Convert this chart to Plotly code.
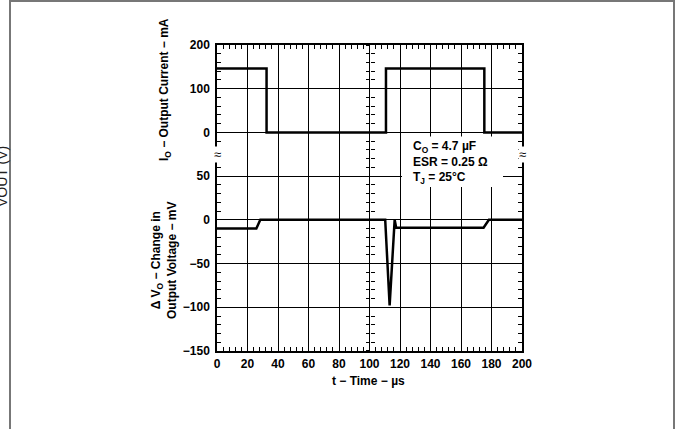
import plotly.graph_objects as go

# ---- data ----
t_current = [0, 32.5, 32.5, 110.8, 110.8, 175.3, 175.3, 200]
i_out_mA = [146, 146, 0, 0, 146, 146, 0, 0]

t_voltage = [0, 25.8, 28.4, 110.3, 113.2, 116.5, 117.5, 174.8, 178.3, 200]
dv_out_mV = [-10, -10, 0, 0, -98, 0, -9, -9, 0, 0]

x_ticks = [0, 20, 40, 60, 80, 100, 120, 140, 160, 180, 200]
i_ticks = [0, 100, 200]
v_ticks = [-150, -100, -50, 0, 50]

# ---- geometry helpers (pixel -> paper) ----
W, H = 679, 429
L, R, T, B = 217, 522, 45, 351
def xp(px):
    return (px - L) / (R - L)
def yp(py):
    return (B - py) / (B - T)

split = 4.5 / 7.0
FONT = "Liberation Sans, Arial, Helvetica, sans-serif"
tickfont = dict(family=FONT, size=12, color="black", weight="bold")

fig = go.Figure()
fig.add_trace(go.Scatter(x=t_current, y=i_out_mA, mode="lines",
                         line=dict(color="black", width=2.5), xaxis="x", yaxis="y",
                         showlegend=False, hoverinfo="skip"))
fig.add_trace(go.Scatter(x=t_voltage, y=dv_out_mV, mode="lines",
                         line=dict(color="black", width=2.5), xaxis="x2", yaxis="y2",
                         showlegend=False, hoverinfo="skip"))
# invisible traces so the centre tick axes are drawn
for ya, xa, xs, ys in [("y3", "x", t_current, i_out_mA), ("y4", "x", t_current, i_out_mA),
                       ("y5", "x2", t_voltage, dv_out_mV), ("y6", "x2", t_voltage, dv_out_mV)]:
    fig.add_trace(go.Scatter(x=xs, y=ys, mode="lines", line=dict(width=0, color="rgba(0,0,0,0)"),
                             xaxis=xa, yaxis=ya, showlegend=False, hoverinfo="skip"))

common_x = dict(range=[0, 200], tickvals=x_ticks, showgrid=True, gridcolor="black", gridwidth=1,
                zeroline=False, showline=True, linecolor="black", linewidth=1.5,
                ticks="inside", ticklen=4, tickcolor="black",
                minor=dict(ticks="inside", ticklen=4, dtick=4, tick0=0, tickcolor="black", showgrid=False))

fig.update_layout(
    width=W, height=H, margin=dict(l=L, r=W - R, t=T, b=H - B),
    paper_bgcolor="white", plot_bgcolor="white",
    xaxis=dict(common_x, anchor="y", side="top", showticklabels=False, mirror=False),
    xaxis2=dict(common_x, anchor="y2", side="bottom", showticklabels=True, mirror=False,
                tickfont=tickfont, ticklabelstandoff=1),
    yaxis=dict(domain=[split, 1], anchor="x", range=[-50, 200], tickvals=i_ticks,
               showgrid=True, gridcolor="black", gridwidth=1, zeroline=False,
               showline=True, linecolor="black", linewidth=1.5, mirror="ticks",
               ticks="inside", ticklen=4, tickcolor="black", tickfont=tickfont,
               ticklabelstandoff=3,
               minor=dict(ticks="inside", ticklen=4, dtick=20, tick0=0, tickcolor="black", showgrid=False)),
    yaxis2=dict(domain=[0, split], anchor="x2", range=[-150, 75], tickvals=v_ticks,
                showgrid=True, gridcolor="black", gridwidth=1, zeroline=False,
                showline=True, linecolor="black", linewidth=1.5, mirror="ticks",
                ticks="inside", ticklen=4, tickcolor="black", tickfont=tickfont,
                ticklabelstandoff=3,
                minor=dict(ticks="inside", ticklen=4, dtick=10, tick0=0, tickcolor="black", showgrid=False)),
)

def centre_axis(over, rng, dt, direction):
    return dict(overlaying=over, anchor="free", position=0.5, side="left", range=rng,
                showgrid=False, zeroline=False, showline=False, showticklabels=False,
                ticks=direction, ticklen=4, tickcolor="black", tickvals=[],
                minor=dict(ticks=direction, ticklen=4, dtick=dt, tick0=0, tickcolor="black", showgrid=False))

fig.update_layout(
    yaxis3=centre_axis("y", [-50, 200], 20, "outside"),
    yaxis4=centre_axis("y", [-50, 200], 20, "inside"),
    yaxis5=centre_axis("y2", [-150, 75], 10, "outside"),
    yaxis6=centre_axis("y2", [-150, 75], 10, "inside"),
)

# white box behind the condition text (covers grid lines only)
fig.add_shape(type="rect", xref="paper", yref="paper", x0=xp(402), x1=xp(503), y0=yp(187), y1=yp(136.5),
              fillcolor="white", line=dict(width=0), layer="above")

# outer page border
for x0, x1, y0, y1 in [(10, 10, 0, 429), (674, 674, 0, 429), (10, 674, 1, 1)]:
    fig.add_shape(type="line", xref="paper", yref="paper", x0=xp(x0), x1=xp(x1), y0=yp(y0), y1=yp(y1),
                  line=dict(color="#777777", width=2))

bold = dict(family=FONT, size=12, color="black", weight="bold")
fig.add_annotation(xref="paper", yref="paper", x=xp(411), y=yp(137), xanchor="left", yanchor="top",
                   align="left", showarrow=False, font=bold,
                   text="C<sub>O</sub> = 4.7 µF<br>ESR = 0.25 Ω<br>T<sub>J</sub> = 25°C")
fig.add_annotation(xref="paper", yref="paper", x=xp(368), y=yp(381), xanchor="center", yanchor="middle",
                   showarrow=False, font=bold, text="t − Time − µs")
fig.add_annotation(xref="paper", yref="paper", x=xp(165), y=yp(90), xanchor="center", yanchor="middle",
                   showarrow=False, font=bold,
                   textangle=-90, text="I<sub>O</sub> − Output Current − mA")
fig.add_annotation(xref="paper", yref="paper", x=xp(164), y=yp(261), xanchor="center", yanchor="middle",
                   showarrow=False, font=bold,
                   textangle=-90, text="Δ V<sub>O</sub> − Change in<br>Output Voltage − mV")
fig.add_annotation(xref="paper", yref="paper", x=xp(2), y=yp(177), xanchor="center", yanchor="middle",
                   showarrow=False,
                   font=dict(family=FONT, size=14, color="#222222"), textangle=-90, text="VOUT (V)")
for bx in [0, 1]:
    fig.add_annotation(xref="paper", yref="paper", x=bx, y=split, xanchor="center", yanchor="middle",
                       showarrow=False,
                       font=dict(family=FONT, size=13, color="black"), bgcolor="white",
                       text="≈", borderpad=0)

fig.write_html("out.html", config={"displayModeBar": False},
               post_script="document.body.style.margin='0px';")
